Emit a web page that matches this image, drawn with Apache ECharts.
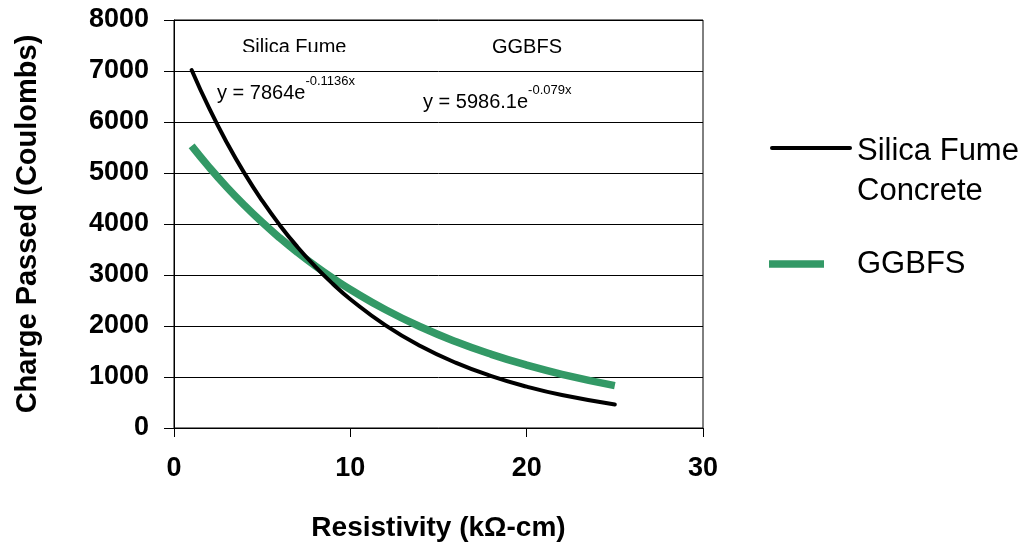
<!DOCTYPE html>
<html>
<head>
    <meta charset="utf-8">
    <title>Charge Passed vs Resistivity</title>
    <script src="https://cdn.jsdelivr.net/npm/echarts@6/dist/echarts.min.js"></script>
    <style>
        body { margin: 0; background: #fff; }
    </style>
</head>
<body>
    <div id="main" style="width: 1029px;height:552px;"></div>
    <script type="text/javascript">
    // values
    var resistivity = [1, 2, 3, 4, 5, 6, 7, 8, 9, 10, 12, 14, 16, 18, 20, 22, 25];
    var silicaFume = [7020, 6265, 5593, 4992, 4456, 3977, 3550, 3169, 2829, 2525, 2012, 1603, 1277, 1018, 811, 646, 460];
    var ggbfs = [5531, 5111, 4722, 4364, 4032, 3726, 3443, 3181, 2939, 2716, 2319, 1980, 1691, 1444, 1233, 1053, 831];

    var yTicks = [0, 1000, 2000, 3000, 4000, 5000, 6000, 7000, 8000];
    var xTicks = [0, 10, 20, 30];

    var font = '"Liberation Sans", Arial, sans-serif';
    var green = '#339966';

    function pairs(xs, ys) {
        return xs.map(function (x, i) { return [x, ys[i]]; });
    }

    var myChart = echarts.init(document.getElementById('main'));

    var eqRich = {
        b: { font: '20px ' + font, fill: '#000', lineHeight: 28, verticalAlign: 'bottom' },
        s: { font: '13px ' + font, fill: '#000', lineHeight: 13, verticalAlign: 'top' }
    };

    var option = {
        animation: false,
        backgroundColor: '#fff',
        grid: {
            left: 174, right: 326, top: 20, bottom: 124,
            show: true, borderColor: '#000', borderWidth: 1
        },
        xAxis: {
            type: 'value',
            min: xTicks[0], max: xTicks[xTicks.length - 1], interval: 10,
            name: 'Resistivity (kΩ-cm)',
            nameLocation: 'middle', nameGap: 86,
            nameTextStyle: { fontFamily: font, fontWeight: 'bold', fontSize: 28, color: '#000' },
            axisLine: { lineStyle: { color: '#000', width: 1 } },
            axisTick: { show: true, inside: false, length: 9, lineStyle: { color: '#000' } },
            axisLabel: { margin: 27, fontFamily: font, fontWeight: 'bold', fontSize: 27, color: '#000' },
            splitLine: { show: false }
        },
        yAxis: {
            type: 'value',
            min: yTicks[0], max: yTicks[yTicks.length - 1], interval: 1000,
            name: 'Charge Passed (Coulombs)',
            nameLocation: 'middle', nameGap: 132,
            nameTextStyle: { fontFamily: font, fontWeight: 'bold', fontSize: 29, color: '#000' },
            axisLine: { lineStyle: { color: '#000', width: 1 } },
            axisTick: { show: true, inside: false, length: 10, lineStyle: { color: '#000' } },
            axisLabel: {
                margin: 25, fontFamily: font, fontWeight: 'bold', fontSize: 27, color: '#000',
                formatter: function (v) { return String(v); }
            },
            splitLine: { show: true, lineStyle: { color: '#000', width: 1 } }
        },
        series: [
            {
                name: 'Silica Fume Concrete',
                type: 'line',
                smooth: true,
                symbol: 'none',
                data: pairs(resistivity, silicaFume),
                lineStyle: { color: '#000', width: 4, cap: 'round' },
                z: 3
            },
            {
                name: 'GGBFS',
                type: 'line',
                smooth: true,
                symbol: 'none',
                data: pairs(resistivity, ggbfs),
                lineStyle: { color: green, width: 7.5 },
                z: 2
            }
        ],
        graphic: [
            // legend
            { type: 'line', shape: { x1: 772, y1: 148, x2: 850, y2: 148 },
              style: { stroke: '#000', lineWidth: 4, lineCap: 'round' } },
            { type: 'text', left: 857, top: 131,
              style: { text: 'Silica Fume\nConcrete', font: '31px ' + font, fill: '#000', lineHeight: 40 } },
            { type: 'line', shape: { x1: 769, y1: 264, x2: 824, y2: 264 },
              style: { stroke: green, lineWidth: 7.5 } },
            { type: 'text', left: 857, top: 249,
              style: { text: 'GGBFS', font: '31px ' + font, fill: '#000' } },
            // labels inside plot
            { type: 'text', left: 242, top: 37, z: 10,
              style: { text: 'Silica Fume', font: '20px ' + font, fill: '#000' } },
            { type: 'rect', shape: { x: 236, y: 52, width: 124, height: 17 }, z: 11,
              style: { fill: '#fff' } },
            { type: 'text', left: 492, top: 37, z: 10,
              style: { text: 'GGBFS', font: '20px ' + font, fill: '#000' } },
            { type: 'text', left: 217, top: 75, z: 10,
              style: { text: '{b|y = 7864e}{s|-0.1136x}', rich: eqRich } },
            { type: 'text', left: 423, top: 84, z: 10,
              style: { text: '{b|y = 5986.1e}{s|-0.079x}', rich: eqRich } }
        ]
    };

    myChart.setOption(option);
    </script>
</body>
</html>
